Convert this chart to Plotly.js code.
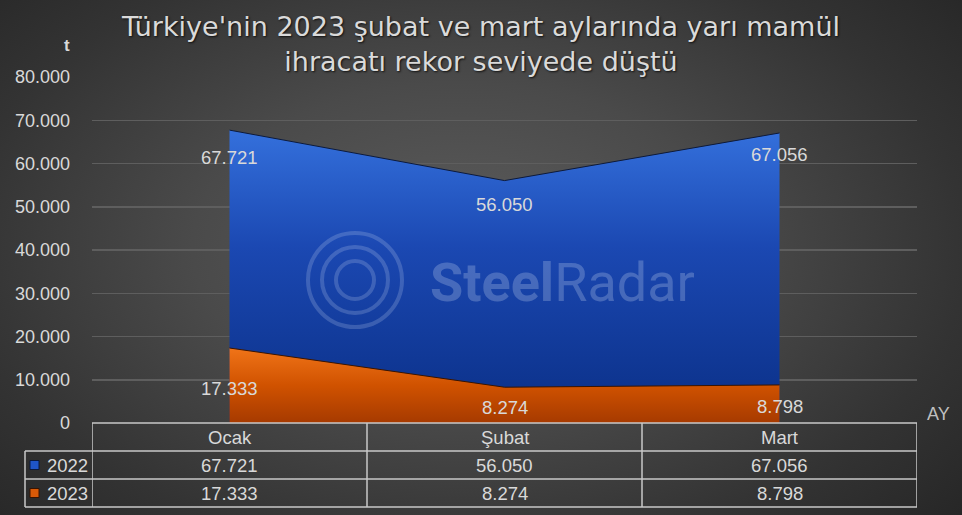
<!DOCTYPE html>
<html><head><meta charset="utf-8">
<script src="https://cdn.plot.ly/plotly-3.0.1.min.js"></script>
<style>
html,body{margin:0;padding:0;}
body{width:962px;height:515px;overflow:hidden;
background:radial-gradient(ellipse 70% 80% at 48% 48%, #5c5c5c 0%, #4a4a4a 40%, #333333 75%, #262626 100%);}
#chart{width:962px;height:515px;}
</style></head>
<body><div id="chart"></div>
<script>
const categories = ['Ocak', 'Şubat', 'Mart'];
const seriesNames = ['2022', '2023'];
const values2022 = [67721, 56050, 67056];
const values2023 = [17333, 8274, 8798];
const yTicks = [0, 10000, 20000, 30000, 40000, 50000, 60000, 70000, 80000];

const labelShift2022 = [-27, -24, -22];
const labelShift2023 = [-40, -20, -22];

const txtColor = '#d9d9d9';
const font = 'Liberation Sans, Arial, sans-serif';
const fs = 18.5;
function dotted(v){ return v.toString().replace(/\B(?=(\d{3})+(?!\d))/g, '.'); }

const traces = [
  {x: categories, y: values2022, name: seriesNames[0], type: 'scatter', mode: 'lines',
   fill: 'tozeroy', line: {color: '#0d1a3a', width: 1},
   fillgradient: {type: 'vertical', colorscale: [[0, '#0a2f86'], [0.6, '#1b48b2'], [1, '#3470dc']]},
   hoverinfo: 'skip', showlegend: false},
  {x: categories, y: values2023, name: seriesNames[1], type: 'scatter', mode: 'lines',
   fill: 'tozeroy', line: {color: '#3a1400', width: 1},
   fillgradient: {type: 'vertical', colorscale: [[0, '#a63a00'], [0.5, '#d05200'], [1, '#f07418']]},
   hoverinfo: 'skip', showlegend: false}
];

const annotations = [];
categories.forEach((c, i) => {
  annotations.push({x: c, y: values2022[i], xref: 'x', yref: 'y', text: dotted(values2022[i]),
    showarrow: false, yshift: labelShift2022[i], font: {family: font, size: fs, color: txtColor}});
  annotations.push({x: c, y: values2023[i], xref: 'x', yref: 'y', text: dotted(values2023[i]),
    showarrow: false, yshift: labelShift2023[i], font: {family: font, size: fs, color: txtColor}});
});
const rowH = 28;
categories.forEach((c, i) => {
  annotations.push({x: c, y: 0, xref: 'x', yref: 'paper', yanchor: 'middle', yshift: -14,
    text: c, showarrow: false, font: {family: font, size: fs, color: txtColor}});
  annotations.push({x: c, y: 0, xref: 'x', yref: 'paper', yanchor: 'middle', yshift: -14 - rowH,
    text: dotted(values2022[i]), showarrow: false, font: {family: font, size: fs, color: txtColor}});
  annotations.push({x: c, y: 0, xref: 'x', yref: 'paper', yanchor: 'middle', yshift: -14 - 2*rowH,
    text: dotted(values2023[i]), showarrow: false, font: {family: font, size: fs, color: txtColor}});
});
seriesNames.forEach((s, k) => {
  annotations.push({x: -0.5, y: 0, xref: 'x', yref: 'paper', xanchor: 'right', xshift: -2,
    yanchor: 'middle', yshift: -14 - (k + 1)*rowH, text: s, showarrow: false,
    font: {family: font, size: fs, color: txtColor}});
});
annotations.push({x: 0, y: 1, xref: 'paper', yref: 'paper', xanchor: 'right', yanchor: 'bottom',
  xshift: -20, yshift: 20, text: '<b>t</b>', showarrow: false, font: {family: font, size: 17, color: txtColor}});
annotations.push({x: 1, y: 0, xref: 'paper', yref: 'paper', xanchor: 'left', yanchor: 'middle',
  xshift: 8, yshift: 9, text: 'AY', showarrow: false, font: {family: font, size: 18, color: '#bfbfbf'}});

const shapes = [];
const lineCol = '#c8c8c8';
for (let r = 0; r <= 3; r++) {
  shapes.push({type: 'line', xref: 'x', yref: 'paper', x0: -0.5, x1: 2.5,
    ysizemode: 'pixel', yanchor: 0, y0: -r*rowH, y1: -r*rowH, line: {color: lineCol, width: 1.5}});
}
for (let r = 1; r <= 3; r++) {
  shapes.push({type: 'line', xref: 'paper', yref: 'paper', xsizemode: 'pixel', xanchor: 0,
    x0: -67, x1: 0, ysizemode: 'pixel', yanchor: 0, y0: -r*rowH, y1: -r*rowH,
    line: {color: lineCol, width: 1.5}});
}
[-0.5, 0.5, 1.5, 2.5].forEach(xv => {
  shapes.push({type: 'line', xref: 'x', yref: 'paper', x0: xv, x1: xv,
    ysizemode: 'pixel', yanchor: 0, y0: 0, y1: -3*rowH, line: {color: lineCol, width: 1.5}});
});
shapes.push({type: 'line', xref: 'paper', yref: 'paper', xsizemode: 'pixel', xanchor: 0, x0: -67, x1: -67,
  ysizemode: 'pixel', yanchor: 0, y0: -rowH, y1: -3*rowH, line: {color: lineCol, width: 1.5}});
const keyColors = [['#1f55c8', '#0a1a40'], ['#d85a08', '#3a1400']];
keyColors.forEach((kc, k) => {
  shapes.push({type: 'rect', xref: 'paper', yref: 'paper', xsizemode: 'pixel', xanchor: 0,
    x0: -62, x1: -53, ysizemode: 'pixel', yanchor: 0,
    y0: -(k + 1)*rowH - 9.5, y1: -(k + 1)*rowH - 18.5,
    fillcolor: kc[0], line: {color: kc[1], width: 1}});
});
[47, 33, 19].forEach(r => {
  shapes.push({type: 'circle', xref: 'paper', yref: 'paper', xsizemode: 'pixel', ysizemode: 'pixel',
    xanchor: (355 - 92) / 825, yanchor: (423 - 280) / 346, x0: -r, x1: r, y0: -r, y1: r,
    line: {color: 'rgba(200,215,240,0.22)', width: 4}, layer: 'above'});
});
annotations.push({x: (428 - 92) / 825, y: (423 - 282) / 346, xref: 'paper', yref: 'paper',
  xanchor: 'left', yanchor: 'middle', showarrow: false,
  text: '<b>Steel</b>Radar', font: {family: 'Roboto, sans-serif', size: 54, color: 'rgba(200,215,240,0.27)'}});

const layout = {
  width: 962, height: 515,
  paper_bgcolor: 'rgba(0,0,0,0)', plot_bgcolor: 'rgba(0,0,0,0)',
  margin: {l: 92, r: 45, t: 77, b: 92},
  separators: ',.',
  title: {text: "Türkiye'nin 2023 şubat ve mart aylarında yarı mamül<br>ihracatı rekor seviyede düştü",
    x: 0.5, xanchor: 'center', xref: 'container', yref: 'container', y: 0.93, yanchor: 'top',
    font: {family: 'DejaVu Sans, sans-serif', size: 27, color: '#dadada', shadow: '1px 1px 2px #111'}},
  showlegend: false,
  xaxis: {type: 'category', range: [-0.5, 2.5], showgrid: false, showticklabels: false,
    zeroline: false, showline: false, ticks: '', fixedrange: true},
  yaxis: {range: [0, 80000], tickvals: yTicks, tickformat: ',d', showgrid: true,
    gridcolor: '#5e5e5e', gridwidth: 1.5, zeroline: false, showline: false,
    tickfont: {family: font, size: 18, color: txtColor}, ticks: '', ticklen: 0,
    ticklabelstandoff: 21, automargin: false, fixedrange: true},
  annotations: annotations,
  shapes: shapes
};
Plotly.newPlot('chart', traces, layout, {displayModeBar: false, staticPlot: true});
</script>
</body></html>
